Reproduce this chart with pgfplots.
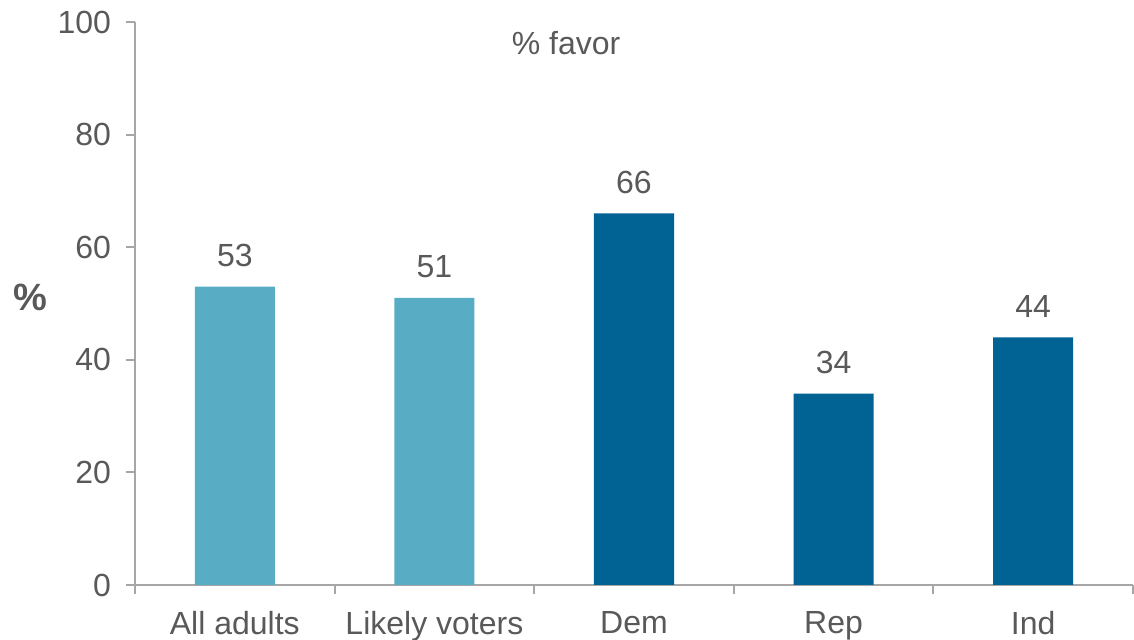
\documentclass[border=0pt]{standalone}
\usepackage{pgfplots}
\pgfplotsset{compat=1.18}
\usepackage{fontspec}
\setmainfont{Liberation Sans}
\definecolor{txtgray}{HTML}{595959}
\definecolor{axgray}{HTML}{A6A6A6}
\definecolor{lightbar}{HTML}{58ACC4}
\definecolor{darkbar}{HTML}{006394}
\begin{document}
\begin{tikzpicture}
\useasboundingbox (-67.5pt,-27.5pt) rectangle (499.5pt,292.5pt);
\begin{axis}[
  at={(0,0)}, anchor=south west,
  scale only axis, width=499pt, height=281.5pt,
  xmin=-0.5, xmax=4.5, ymin=0, ymax=100,
  axis x line=bottom, axis y line=left,
  axis line style={axgray, line width=1pt, -},
  ytick={0,20,...,100},
  xtick={0,1,2,3,4},
  xticklabels={All adults, Likely voters, Dem, Rep, Ind},
  minor xtick={-0.5,0.5,1.5,2.5,3.5,4.5},
  major x tick style={draw=none},
  minor x tick style={axgray, line width=1pt},
  tick align=outside, major tick length=4.5pt, minor tick length=4.5pt,
  ytick style={axgray, line width=1pt},
  tick label style={font=\fontsize{16}{19}\selectfont, text=txtgray},
  /pgf/number format/assume math mode=true,
  xticklabel style={yshift=-5pt},
  yticklabel style={xshift=-4pt},
  ybar, bar width=40pt, bar shift=0pt,
  nodes near coords,
  every node near coord/.append style={font=\fontsize{16}{19}\selectfont, text=txtgray, yshift=6.5pt},
  clip=false,
]
\addplot[fill=lightbar, draw=none] coordinates {(0,53) (1,51)};
\addplot[fill=darkbar, draw=none] coordinates {(2,66) (3,34) (4,44)};
\node[font=\fontsize{16}{19}\selectfont, text=txtgray] at (axis cs:1.66,96.3) {\% favor};
\node[font=\fontsize{19}{22}\selectfont\bfseries, text=txtgray] at (axis description cs:-0.105,0.51) {\%};
\end{axis}
\end{tikzpicture}
\end{document}
